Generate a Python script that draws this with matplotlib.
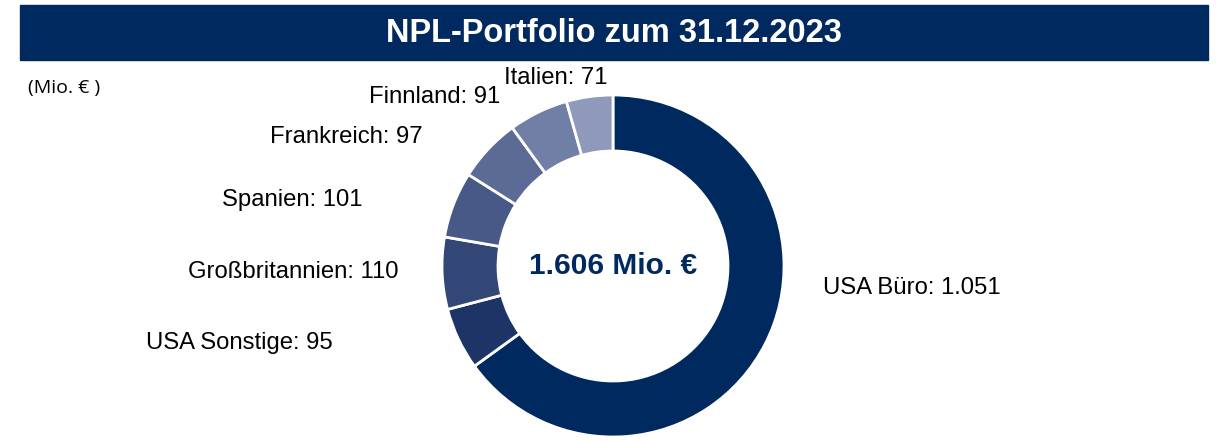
import matplotlib.pyplot as plt
from matplotlib.patches import Rectangle

plt.rcParams['font.family'] = ['Liberation Sans', 'DejaVu Sans']

# data (Mio. EUR)
regions = ['USA Büro', 'USA Sonstige', 'Großbritannien', 'Spanien',
           'Frankreich', 'Finnland', 'Italien']
values = [1051, 95, 110, 101, 97, 91, 71]
colors = ['#00295f', '#1e3467', '#334777', '#485987', '#5c6b95',
          '#717fa6', '#8e99bb']
total_label = '1.606 Mio. €'
title = 'NPL-Portfolio zum 31.12.2023'
unit = '(Mio. € )'

# label anchors in pixels (x, y from top, horizontal alignment)
label_pos = [(823, 288, 'left'), (333, 343, 'right'), (398, 272, 'right'),
             (362, 200, 'right'), (423, 137, 'right'), (500, 97, 'right'),
             (608, 78, 'right')]

W, H = 1228, 442
fig = plt.figure(figsize=(W / 100, H / 100), dpi=100)
ax = fig.add_axes([0, 0, 1, 1])

# title bar
ax.add_patch(Rectangle((20, H - 60), 1188, 55, color='#00295f'))
ax.text(614, H - 33, title, color='white', fontsize=23.5, fontweight='bold',
        ha='center', va='center')
ax.text(28, H - 88, unit, fontsize=14, ha='left', va='center',
        family=['Open Sans', 'DejaVu Sans'])

cx, cy, r = 613, H - 266, 171
ax.pie(values, colors=colors, startangle=90, counterclock=False,
       center=(cx, cy), radius=r, frame=True,
       wedgeprops=dict(width=r - 115, edgecolor='white', linewidth=2))
ax.set_xlim(0, W)
ax.set_ylim(0, H)
ax.axis('off')

def fmt(v):
    return f'{v:,}'.replace(',', '.')

for name, v, (x, y, ha) in zip(regions, values, label_pos):
    ax.text(x, H - y, f'{name}: {fmt(v)}', fontsize=17.2, ha=ha, va='center')

ax.text(cx, cy, total_label, fontsize=21.5, fontweight='bold', color='#00295f',
        ha='center', va='center')

fig.savefig('out.png', dpi=100)
